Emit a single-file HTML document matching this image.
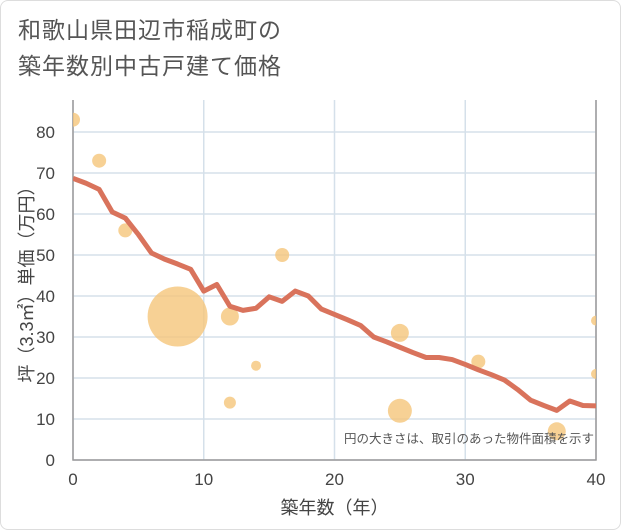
<!DOCTYPE html>
<html><head><meta charset="utf-8"><style>
body{margin:0;background:#fff;font-family:"Liberation Sans","Noto Sans CJK JP",sans-serif}
.card{position:absolute;left:0;top:0;width:619px;height:528px;border:1px solid #ddd;border-radius:8px;background:#fff}
.title{position:absolute;left:18px;top:12px;font-size:23px;line-height:36px;color:#555;letter-spacing:1px}
</style></head><body>
<div class="card"></div>
<div class="title">和歌山県田辺市稲成町の<br>築年数別中古戸建て価格</div>
<svg id="c" width="621" height="530" style="position:absolute;left:0;top:0"></svg>
<script>
const years=[0,1,2,3,4,5,6,7,8,9,10,11,12,13,14,15,16,17,18,19,20,21,22,23,24,25,26,27,28,29,30,31,32,33,34,35,36,37,38,39,40];
const avgPrice=[68.7,67.5,66,60.5,59,55,50.5,49,47.8,46.5,41.2,42.8,37.5,36.5,37,39.8,38.7,41.2,40,36.8,35.5,34.2,32.8,30,28.8,27.5,26.2,25,25,24.5,23.3,22,20.8,19.5,17.2,14.6,13.3,12.1,14.4,13.3,13.2];
const bubX=[0,2,4,8,12,12,14,16,25,25,31,37,40,40];
const bubY=[83,73,56,35,35,14,23,50,31,12,24,7,34,21];
const bubR=[7,7,7,30,9,6,5,7,9,12,7,9,5,5];
const xTicks=[0,10,20,30,40];
const yTicks=[0,10,20,30,40,50,60,70,80];
const L=73,R=596,T=100,B=460;
const xs=v=>L+(v/40)*(R-L);
const ys=v=>B-v*4.1;
const NS="http://www.w3.org/2000/svg";
const svg=document.getElementById('c');
function mk(t,a,p){const e=document.createElementNS(NS,t);for(const k in a)e.setAttribute(k,a[k]);(p||svg).appendChild(e);return e;}
const defs=mk('defs',{});const cp=mk('clipPath',{id:'pc'},defs);mk('rect',{x:L,y:T,width:R-L,height:B-T},cp);
for(const v of yTicks){
 const g=mk('line',{x1:L,x2:R,y1:ys(v),y2:ys(v),stroke:'#d5e0ea','stroke-width':1.5});
 
 
 const t=mk('text',{x:55,y:ys(v)+6,'text-anchor':'end','font-size':17,fill:'#444'});t.textContent=v;
 
 
}
for(const v of xTicks){
 const g=mk('line',{x1:xs(v),x2:xs(v),y1:T,y2:B,stroke:'#d5e0ea','stroke-width':1.5});
 
 
 const t=mk('text',{x:xs(v),y:485,'text-anchor':'middle','font-size':17,fill:'#444'});t.textContent=v;
 
 
}
const ax=mk('path',{d:`M${L} ${T}V${B}H${R}V${T}`,fill:'none',stroke:'#999','stroke-width':1.5});


const bg=mk('g',{'clip-path':'url(#pc)'});
for(let i=0;i<bubX.length;i++){
 const c=mk('circle',{cx:xs(bubX[i]),cy:ys(bubY[i]),r:bubR[i],fill:'#f5c57a','fill-opacity':0.8},bg);
 
 
}
const p=mk('polyline',{points:years.map((y,i)=>xs(y)+','+ys(avgPrice[i])).join(' '),fill:'none',stroke:'#d9735c','stroke-width':5,'stroke-linejoin':'round'},bg);


const n=mk('text',{x:594,y:443,'text-anchor':'end','font-size':12.5,fill:'#555'});n.textContent='円の大きさは、取引のあった物件面積を示す';


const xt=mk('text',{x:(L+R)/2,y:514,'text-anchor':'middle','font-size':18,fill:'#444'});xt.textContent='築年数（年）';


const yt=mk('text',{x:0,y:0,'text-anchor':'middle','font-size':18,fill:'#444',transform:`translate(33,${(T+B)/2}) rotate(-90)`});yt.textContent='坪（3.3㎡）単価（万円）';


</script>
</body></html>
